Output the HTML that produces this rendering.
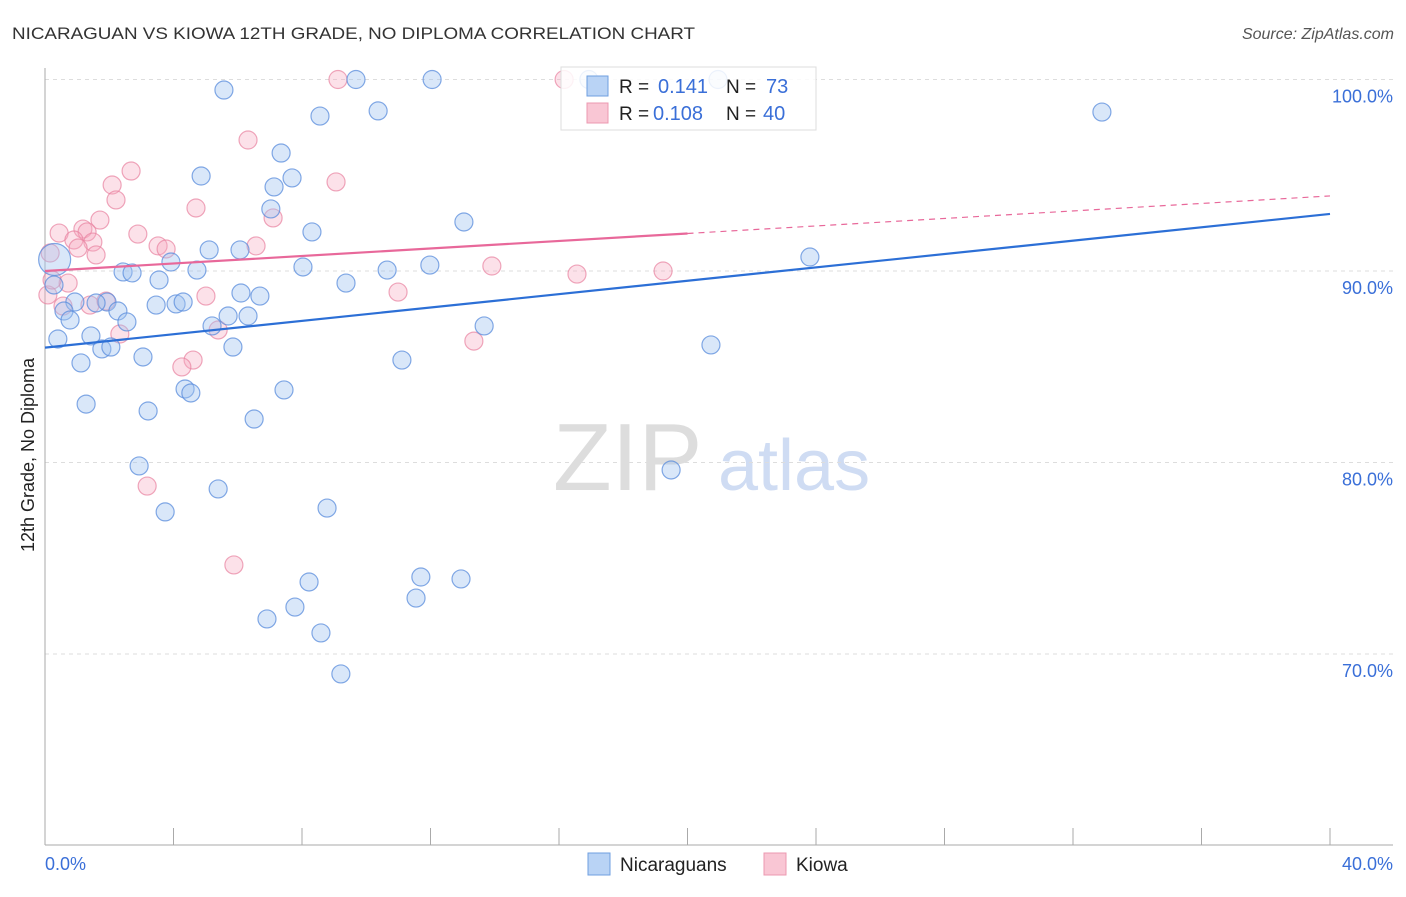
<!DOCTYPE html>
<html><head><meta charset="utf-8"><style>
body{margin:0;background:#fff;font-family:"Liberation Sans",sans-serif;}
svg text{font-family:"Liberation Sans",sans-serif;}
</style></head><body>
<svg id="chart" width="1406" height="892" viewBox="0 0 1406 892">
<text x="12" y="39" font-size="17" fill="#333" textLength="683" lengthAdjust="spacingAndGlyphs">NICARAGUAN VS KIOWA 12TH GRADE, NO DIPLOMA CORRELATION CHART</text>
<text x="1394" y="39" font-size="16" fill="#555" font-style="italic" text-anchor="end">Source: ZipAtlas.com</text>
<text transform="translate(34,455) rotate(-90)" font-size="18" fill="#222" text-anchor="middle">12th Grade, No Diploma</text>
<g><text x="553" y="490" font-size="96" fill="#ddd" font-family="Liberation Serif, serif">ZIP</text><text x="718" y="490" font-size="72" fill="#cfdcf3">atlas</text></g>
<g id="grid"></g><g id="axes"></g><g id="pts"></g><g id="trend"></g>
<g>
<rect x="561" y="67" width="255" height="63" fill="rgba(255,255,255,0.85)" stroke="#ddd"/>
<rect x="587" y="76" width="21" height="20" fill="#b9d3f5" stroke="#6f9fe0"/>
<text x="619" y="93" font-size="19" fill="#222">R = </text><text x="658" y="93" font-size="20" fill="#3a6fd8">0.141</text>
<text x="726" y="93" font-size="19" fill="#222">N = </text><text x="766" y="93" font-size="20" fill="#3a6fd8">73</text>
<rect x="587" y="103" width="21" height="20" fill="#f9c6d4" stroke="#ec98b0"/>
<text x="619" y="120" font-size="19" fill="#222">R = </text><text x="653" y="120" font-size="20" fill="#3a6fd8">0.108</text>
<text x="726" y="120" font-size="19" fill="#222">N = </text><text x="763" y="120" font-size="20" fill="#3a6fd8">40</text>
</g>
<g>
<rect x="588" y="853" width="22" height="22" fill="#b9d3f5" stroke="#6f9fe0"/>
<text x="620" y="871" font-size="19" fill="#222">Nicaraguans</text>
<rect x="764" y="853" width="22" height="22" fill="#f9c6d4" stroke="#ec98b0"/>
<text x="796" y="871" font-size="19" fill="#222">Kiowa</text>
</g>
<text x="45" y="870" font-size="18" fill="#3a6fd8">0.0%</text>
<text x="1393" y="870" font-size="18" fill="#3a6fd8" text-anchor="end">40.0%</text>
</svg>
<script>
const yTicks=[100,90,80,70];
const yTickLabels=["100.0%","90.0%","80.0%","70.0%"];
const blueX=[5.57,9.68,12.05,16.93,20.95,10.37,8.56,32.9,7.35,4.86,7.69,7.13,7.03,13.04,8.31,5.11,6.07,3.92,23.81,2.43,2.71,4.73,8.03,10.65,11.98,3.55,9.37,6.1,6.69,0.28,0.93,1.93,1.59,3.46,4.08,4.3,2.27,0.59,0.78,2.55,5.2,5.7,6.32,13.67,1.43,0.4,1.77,2.05,5.85,20.73,1.12,3.05,11.11,4.36,4.54,7.44,1.28,3.21,6.51,2.93,19.49,5.39,3.74,8.78,8.22,11.7,12.95,7.78,6.91,11.55,8.59,9.21,0.3];
const blueY=[99.45,100,100,100,100,98.36,98.09,98.3,96.16,94.96,94.86,94.39,93.24,92.56,92.04,91.1,91.1,90.47,90.73,89.95,89.9,90.05,90.21,90.05,90.31,89.53,89.37,88.85,88.69,89.27,88.38,88.38,88.33,88.22,88.28,88.38,87.91,87.91,87.44,87.34,87.13,87.65,87.65,87.13,86.61,86.45,85.93,86.03,86.03,86.14,85.2,85.51,85.35,83.84,83.63,83.79,83.05,82.69,82.27,79.82,79.61,78.62,77.42,77.62,73.76,74.02,73.92,72.45,71.83,72.92,71.1,68.96,90.6];
const pinkX=[9.12,16.16,6.32,2.68,2.09,2.21,9.06,4.7,1.71,7.1,0.44,1.18,1.31,2.89,0.9,1.49,1.03,3.52,3.77,6.57,1.59,0.16,13.91,16.56,19.24,0.72,5.01,10.99,0.09,0.56,1.4,1.9,5.39,2.33,4.61,4.26,13.35,3.18,5.88,0.22];
const pinkY=[100,100,96.84,95.22,94.49,93.71,94.65,93.29,92.66,92.77,91.98,92.19,92.04,91.93,91.62,91.51,91.2,91.31,91.15,91.31,90.84,90.94,90.26,89.84,90,89.37,88.69,88.9,88.75,88.17,88.22,88.43,86.92,86.71,85.35,84.99,86.34,78.77,74.65,89.53];
const blueTrend=[86.0,92.98];
const pinkTrend=[90.0,93.92];
const NS="http://www.w3.org/2000/svg";
const X=v=>45+v*32.125;
const Y=v=>271-(v-90)*19.15;
function mk(t,a,p){const e=document.createElementNS(NS,t);for(const k in a)e.setAttribute(k,a[k]);document.getElementById(p).appendChild(e);return e;}
yTicks.forEach((t,i)=>{
 const l=mk('line',{x1:45,x2:1393,y1:Y(t),y2:Y(t),stroke:'#ddd','stroke-dasharray':'4,4'},'grid');
 
 
 const tx=mk('text',{x:1393,y:Y(t)+23,'font-size':18,fill:'#3a6fd8','text-anchor':'end'},'grid');
 tx.textContent=yTickLabels[i];
 
 
});
const ya=mk('line',{x1:45,x2:45,y1:68,y2:845,stroke:'#aaa'},'axes');


const xa=mk('line',{x1:45,x2:1393,y1:845,y2:845,stroke:'#aaa'},'axes');


for(let k=1;k<=10;k++){
 const t=mk('line',{x1:X(k*4),x2:X(k*4),y1:828,y2:845,stroke:'#aaa'},'axes');
 
 
}
pinkX.forEach((x,i)=>{
 const c=mk('circle',{cx:X(x),cy:Y(pinkY[i]),r:9,fill:'rgba(246,170,192,0.35)',stroke:'rgba(232,130,160,0.7)','stroke-width':1.2},'pts');
 
 
});
blueX.forEach((x,i)=>{
 const big=i===blueX.length-1;
 const c=mk('circle',{cx:X(x),cy:Y(blueY[i]),r:big?16:9,fill:'rgba(160,196,240,0.4)',stroke:'rgba(90,140,220,0.75)','stroke-width':1.2},'pts');
 
 
});
const bl=mk('line',{x1:X(0),y1:Y(blueTrend[0]),x2:X(40),y2:Y(blueTrend[1]),stroke:'#2c6fd6','stroke-width':2.2},'trend');


const pm=pinkTrend[0]+(pinkTrend[1]-pinkTrend[0])*0.5;
const pl=mk('line',{x1:X(0),y1:Y(pinkTrend[0]),x2:X(20),y2:Y(pm),stroke:'#e8689a','stroke-width':2.2},'trend');


const pd=mk('line',{x1:X(20),y1:Y(pm),x2:X(40),y2:Y(pinkTrend[1]),stroke:'#e8689a','stroke-width':1.2,'stroke-dasharray':'6,5'},'trend');


</script>
</body></html>
